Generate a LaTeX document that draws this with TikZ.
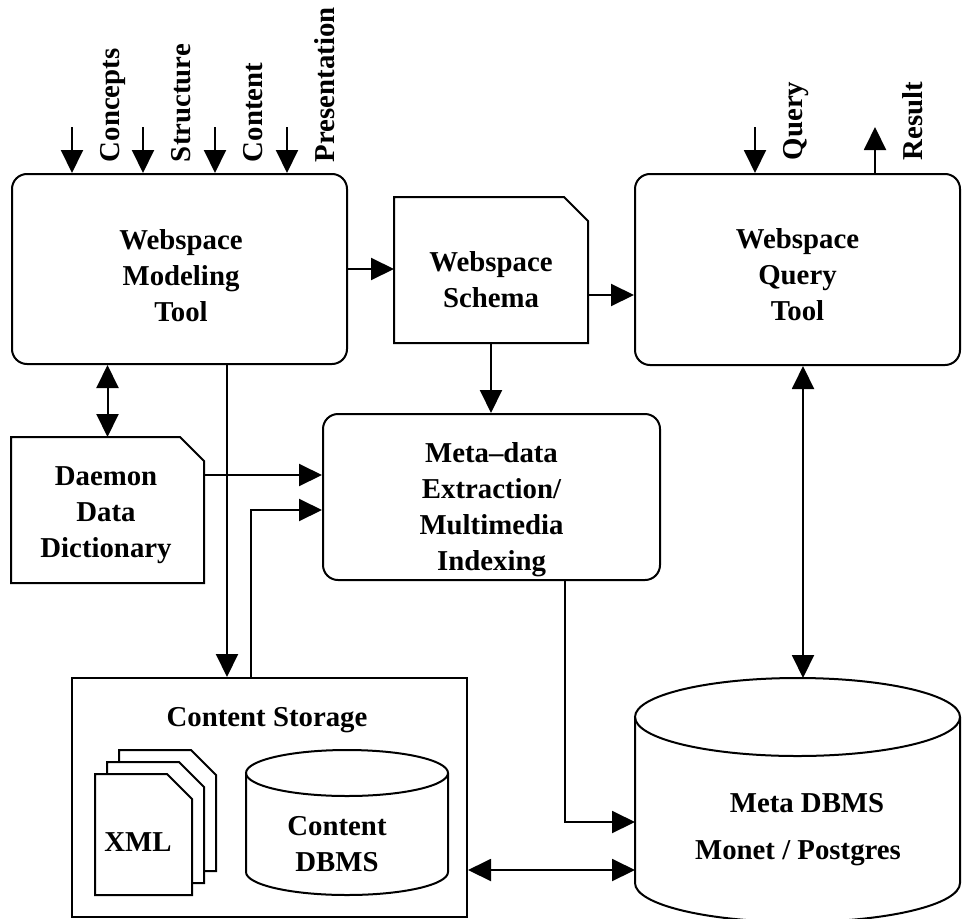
\documentclass[tikz,border=0pt]{standalone}
\usepackage{fontspec}
\setmainfont{Liberation Serif}
\usetikzlibrary{positioning, arrows.meta}

\begin{document}
\begin{tikzpicture}[
    x=0.5pt, y=0.5pt, line width=1pt,
    font=\fontsize{14.4}{18}\selectfont\bfseries,
    box/.style={rectangle, draw, rounded corners=7.5pt, inner sep=0pt},
    doc/.style={rectangle, inner sep=0pt},
    store/.style={rectangle, draw, inner sep=0pt},
    txt/.style={align=center, inner sep=0pt},
    line/.style={-{Triangle[length=11.5pt, width=11pt]}},
    both/.style={{Triangle[length=11.5pt, width=11pt]}-{Triangle[length=11.5pt, width=11pt]}},
    tag/.style={rotate=90, anchor=base west, inner sep=0pt}
    ]
    \useasboundingbox (0,0) rectangle (962,918);

    % tools
    \node[box, minimum width=167.5pt, minimum height=95pt] (model) at (179.5,649) {};
    \node[txt] (modeltext) at (181,642) {Webspace\\Modeling\\Tool};
    \node[box, minimum width=162.5pt, minimum height=95.5pt] (query) at (797.5,648.5) {};
    \node[txt] (querytext) at (797.5,643) {Webspace\\Query\\Tool};
    \node[box, minimum width=168.5pt, minimum height=83pt] (meta) at (491.5,421) {};
    \node[txt] (metatext) at (491.5,408) {Meta--data\\Extraction/\\Multimedia\\Indexing};

    % documents
    \node[doc, minimum width=96pt, minimum height=72pt] (schema) at (491,648) {};
    \draw (schema.south west) -- (schema.north west) -- ([xshift=-12pt]schema.north east)
        -- ([yshift=-12pt]schema.north east) -- (schema.south east) -- cycle;
    \node[txt] (schematext) at (491,638) {Webspace\\Schema};
    \node[doc, minimum width=95.5pt, minimum height=72pt] (dict) at (107.5,408) {};
    \draw (dict.south west) -- (dict.north west) -- ([xshift=-12pt]dict.north east)
        -- ([yshift=-12pt]dict.north east) -- (dict.south east) -- cycle;
    \node[txt] (dicttext) at (106,403) {Daemon\\Data\\Dictionary};

    % content storage
    \node[store, minimum width=197.5pt, minimum height=119.5pt] (storage) at (269.5,120.5) {};
    \node (storagetitle) at (267,198) {Content Storage};
    \foreach \d in {24,12,0}
        \draw[fill=white] (95+\d,23+\d) -- (95+\d,144+\d) -- (167+\d,144+\d)
            -- (192+\d,119+\d) -- (192+\d,23+\d) -- cycle;
    \node (xml) at (138,76) {XML};
    \draw (246,145) -- (246,46) arc[start angle=180, end angle=360, x radius=50.5pt, y radius=11.5pt] -- (448,145);
    \draw (347,145) ellipse[x radius=50.5pt, y radius=11.5pt];
    \node[txt] (contentdb) at (337,74) {Content\\DBMS};

    % meta dbms
    \draw (635,201) -- (635,35) arc[start angle=180, end angle=360, x radius=81.25pt, y radius=19.5pt] -- (960,201);
    \draw (797.5,201) ellipse[x radius=81.25pt, y radius=19.5pt];
    \node (metadb) at (807,115) {Meta DBMS};
    \node (metadbsub) at (798,65) {Monet / Postgres};
    \coordinate (mdbtop) at (803,240);
    \coordinate (mdbin1) at (635,96);
    \coordinate (mdbin2) at (635,48);

    % inputs and outputs
    \foreach \x/\t [count=\i] in {72/Concepts, 143/Structure, 215/Content, 287/Presentation} {
        \coordinate (in\i) at (\x,791);
        \draw[line] (in\i) -- (in\i |- model.north);
        \node[tag] (tag\i) at (\x+47,755) {\t};
    }
    \coordinate (qin) at (755,791);
    \draw[line] (qin) -- (qin |- query.north);
    \node[tag] (qtag) at (802,757) {Query};
    \coordinate (qout) at (875,791);
    \draw[line] (qout |- query.north) -- (qout);
    \node[tag] (rtag) at (922,757) {Result};

    % connectors
    \draw[line] (model.east) -- (model.east -| schema.west);
    \coordinate (sq) at (schema.east |- 0,623);
    \draw[line] (sq) -- (sq -| query.west);
    \draw[line] (schema.south) -- (schema.south |- meta.north);
    \draw[both] (dict.north |- model.south) -- (dict.north);
    \coordinate (dm) at (dict.east |- 0,443);
    \draw[line] (dm) -- (dm -| meta.west);
    \coordinate (ms) at (model.south -| 227,0);
    \draw[line] (ms) -- (ms |- storage.north);
    \coordinate (sm) at (storage.north -| 251,0);
    \draw[line] (sm) |- (meta.west |- 0,408);
    \coordinate (mm) at (meta.south -| 565,0);
    \draw[line] (mm) |- (mdbin1);
    \draw[both] (storage.east |- mdbin2) -- (mdbin2);
    \draw[both] (query.south -| mdbtop) -- (mdbtop);
\end{tikzpicture}
\end{document}
